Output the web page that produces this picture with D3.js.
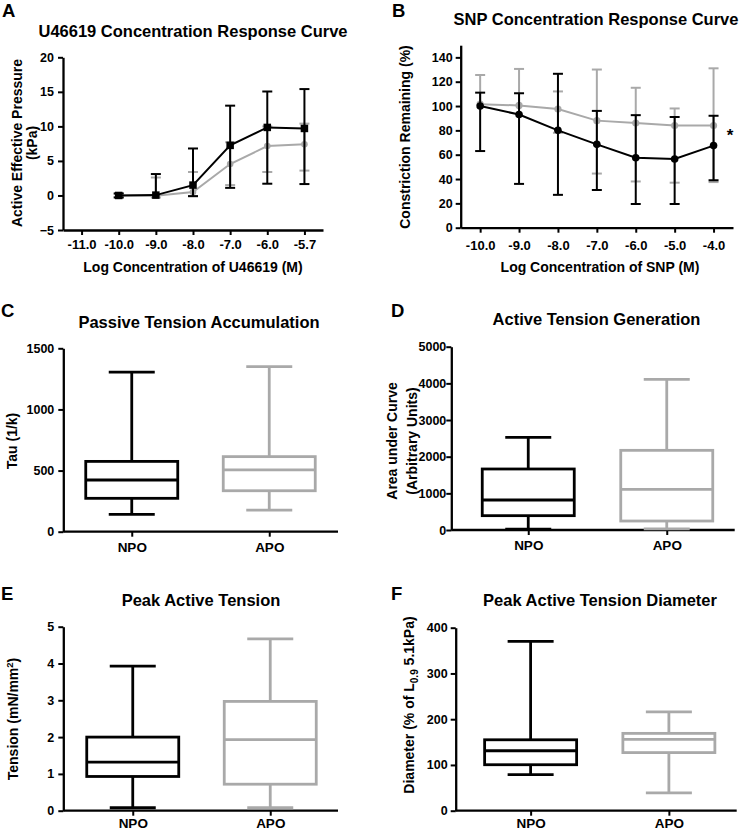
<!DOCTYPE html>
<html><head><meta charset="utf-8">
<script src="https://cdn.jsdelivr.net/npm/d3@7"></script>
<style>
body{margin:0;background:#fff}
svg text{font-family:"Liberation Sans",Arial,Helvetica,sans-serif;font-weight:bold;fill:#000}
</style></head><body>
<svg id="fig" width="748" height="832"></svg>
<script>
// ---------- Panel A: U46619 concentration response ----------
const aTickLabels = ["-11.0","-10.0","-9.0","-8.0","-7.0","-6.0","-5.7"];
const aConc       = ["-10.0","-9.0","-8.0","-7.0","-6.0","-5.7"];
const aNpoMean  = [0, 0.05, 1.5, 7.25, 9.85, 9.7];
const aNpoUpper = [0.3, 3.1, 6.8, 13.0, 15.05, 15.4];
const aNpoLower = [-0.3, 0.05, -0.1, 1.1, 1.7, 1.65];
const aApoMean  = [0, -0.05, 0.5, 4.55, 7.15, 7.4];
const aApoUpper = [0.2, 2.6, 3.4, 7.7, 10.0, 10.4];
const aApoLower = [-0.2, -0.3, -0.1, 1.5, 3.4, 3.6];
const aYTicks = [-5, 0, 5, 10, 15, 20];

// ---------- Panel B: SNP concentration response ----------
const bConc = ["-10.0","-9.0","-8.0","-7.0","-6.0","-5.0","-4.0"];
const bNpoMean  = [100, 93, 80, 68.5, 57.5, 56.5, 67.5];
const bNpoUpper = [111, 110.5, 126.5, 96, 92.5, 91, 92];
const bNpoLower = [63, 36, 27, 31, 19.5, 19.5, 39];
const bApoMean  = [101.5, 100.5, 97.5, 88, 86, 84, 84];
const bApoUpper = [125.5, 130.5, 112, 130, 115, 98, 131];
const bApoLower = [101.5, 100.5, 78, 44.5, 38, 37, 37.5];
const bYTicks = [0, 20, 40, 60, 80, 100, 120, 140];

// ---------- Box plots: [min, Q1, median, Q3, max] ----------
const groups = ["NPO", "APO"];
const cNpo = [142, 273, 423, 575, 1305];
const cApo = [177, 335, 505, 614, 1350];
const cYTicks = [0, 500, 1000, 1500];
const dNpo = [20, 391, 818, 1664, 2527];
const dApo = [30, 245, 1109, 2173, 4109];
const dYTicks = [0, 1000, 2000, 3000, 4000, 5000];
const eNpo = [0.08, 0.93, 1.32, 2.0, 3.93];
const eApo = [0.08, 0.72, 1.93, 2.97, 4.67];
const eYTicks = [0, 1, 2, 3, 4, 5];
const fNpo = [79, 100.5, 131, 155, 370];
const fApo = [39, 127, 156, 169, 216];
const fYTicks = [0, 100, 200, 300, 400];

const BLACK = "#000", GRAY = "#a9a9a9";
const svg = d3.select("#fig");
const fmtInt = d3.format("d");

function styleAxis(g, fs) {
  g.selectAll("path.domain").attr("stroke", "#000").attr("stroke-width", 2.3);
  g.selectAll(".tick line").attr("stroke", "#000").attr("stroke-width", 2);
  g.selectAll(".tick text").attr("font-size", fs).attr("fill", "#000");
}

function text(x, y, str, size, anchor) {
  return svg.append("text").attr("x", x).attr("y", y).attr("font-size", size)
    .attr("text-anchor", anchor || "middle").text(str);
}
function vtext(x, y, str, size) {
  return svg.append("text").attr("transform", `translate(${x},${y}) rotate(-90)`)
    .attr("font-size", size).attr("text-anchor", "middle").text(str);
}

function yAxis(scale, x, ticks, pad) {
  const g = svg.append("g").attr("transform", `translate(${x},0)`)
    .call(d3.axisLeft(scale).tickValues(ticks).tickFormat(fmtInt)
      .tickSize(5).tickPadding(pad == null ? 4 : pad).tickSizeOuter(0));
  styleAxis(g, 12.5);
}

function series(x, y, cats, mean, upper, lower, color, shape, size) {
  const g = svg.append("g");
  const capW = 10;
  const pts = cats.map((c, i) => ({c, m: mean[i], u: upper[i], l: lower[i]}));
  g.append("path").datum(pts)
    .attr("fill", "none").attr("stroke", color).attr("stroke-width", 2)
    .attr("d", d3.line().x(d => x(d.c)).y(d => y(d.m)));
  pts.forEach(d => {
    const cx = x(d.c);
    g.append("line").attr("x1", cx).attr("x2", cx).attr("y1", y(d.u)).attr("y2", y(d.l))
      .attr("stroke", color).attr("stroke-width", 2);
    [d.u, d.l].forEach(v => {
      if (Math.abs(v - d.m) > 0.001) {
        g.append("line").attr("x1", cx - capW/2).attr("x2", cx + capW/2)
          .attr("y1", y(v)).attr("y2", y(v)).attr("stroke", color).attr("stroke-width", 2);
      }
    });
  });
  if (shape === "square") {
    g.selectAll("rect.m").data(pts).enter().append("rect")
      .attr("x", d => x(d.c) - size/2).attr("y", d => y(d.m) - size/2)
      .attr("width", size).attr("height", size).attr("fill", color);
  } else {
    g.selectAll("circle.m").data(pts).enter().append("circle")
      .attr("cx", d => x(d.c)).attr("cy", d => y(d.m)).attr("r", size).attr("fill", color);
  }
}

// ---------- Panel A ----------
{
  const x = d3.scalePoint().domain(aTickLabels).range([63, 323]).padding(0.5);
  const y = d3.scaleLinear().domain([-5, 20]).range([230, 57.3]);
  const gx = svg.append("g").attr("transform", "translate(0,230)")
    .call(d3.axisBottom(x).tickSize(5).tickPadding(5).tickSizeOuter(0));
  styleAxis(gx, 13);
  yAxis(y, 63, aYTicks);
  series(x, y, aConc, aApoMean, aApoUpper, aApoLower, GRAY, "circle", 3.3);
  series(x, y, aConc, aNpoMean, aNpoUpper, aNpoLower, BLACK, "square", 7.5);
  text(2, 17, "A", 18.5, "start");
  text(193, 37, "U46619 Concentration Response Curve", 16.5);
  text(193, 272, "Log Concentration of U46619 (M)", 14);
  vtext(22, 143, "Active Effective Pressure", 14);
  vtext(36.5, 143, "(kPa)", 14);
}

// ---------- Panel B ----------
{
  const x = d3.scalePoint().domain(bConc).range([460.7, 733]).padding(0.5);
  const y = d3.scaleLinear().domain([0, 150]).range([227.7, 45.2]);
  const gx = svg.append("g").attr("transform", "translate(0,227.7)")
    .call(d3.axisBottom(x).tickSize(5).tickPadding(8).tickSizeOuter(0));
  styleAxis(gx, 13);
  yAxis(y, 460.7, bYTicks, 3);
  series(x, y, bConc, bApoMean, bApoUpper, bApoLower, GRAY, "circle", 3.6);
  series(x, y, bConc, bNpoMean, bNpoUpper, bNpoLower, BLACK, "circle", 3.8);
  text(730, 141, "*", 17);
  text(392, 16.5, "B", 18.5, "start");
  text(596, 25, "SNP Concentration Response Curve", 16.5);
  text(600, 272, "Log Concentration of SNP (M)", 14);
  vtext(409.5, 137, "Constriction Remaining (%)", 14);
}

// ---------- Box plot panels ----------
function boxPanel(opt) {
  const x = d3.scalePoint().domain(groups).range(opt.xr).padding(0.5);
  const y = d3.scaleLinear().domain(opt.dom).range([opt.y0, opt.y1]);
  const gx = svg.append("g").attr("transform", `translate(0,${opt.y0})`)
    .call(d3.axisBottom(x).tickSize(5).tickPadding(opt.xpad).tickSizeOuter(0));
  gx.select("path.domain").remove();
  styleAxis(gx, 13.5);
  svg.append("line").attr("x1", opt.ax).attr("x2", opt.xEnd).attr("y1", opt.y0).attr("y2", opt.y0)
    .attr("stroke", "#000").attr("stroke-width", 2.3);
  yAxis(y, opt.ax, opt.ticks, opt.ypad);
  const bw = 92, cw = 46;
  [[groups[0], opt.npo, BLACK], [groups[1], opt.apo, GRAY]].forEach(([gname, v, col]) => {
    const cx = x(gname);
    const g = svg.append("g").attr("stroke", col).attr("stroke-width", 2.8).attr("fill", "none");
    g.append("line").attr("x1", cx).attr("x2", cx).attr("y1", y(v[0])).attr("y2", y(v[1]));
    g.append("line").attr("x1", cx).attr("x2", cx).attr("y1", y(v[3])).attr("y2", y(v[4]));
    g.append("line").attr("x1", cx - cw/2).attr("x2", cx + cw/2).attr("y1", y(v[0])).attr("y2", y(v[0]));
    g.append("line").attr("x1", cx - cw/2).attr("x2", cx + cw/2).attr("y1", y(v[4])).attr("y2", y(v[4]));
    g.append("rect").attr("x", cx - bw/2).attr("y", y(v[3])).attr("width", bw)
      .attr("height", y(v[1]) - y(v[3]));
    g.append("line").attr("x1", cx - bw/2).attr("x2", cx + bw/2).attr("y1", y(v[2])).attr("y2", y(v[2]));
  });
  text(opt.lx, opt.ly, opt.letter, 18.5, "start");
  text(opt.tx, opt.ty, opt.title, 16.5);
}

boxPanel({xr: [63, 338], ax: 63.3, xEnd: 338, dom: [0, 1500], y0: 531.7, y1: 348.3,
  ticks: cYTicks, npo: cNpo, apo: cApo, letter: "C", lx: 1, ly: 317, xpad: 5.5, ypad: 4,
  title: "Passive Tension Accumulation", tx: 199, ty: 328});
vtext(17, 441, "Tau (1/k)", 14);

boxPanel({xr: [459, 736], ax: 451.3, xEnd: 734.7, dom: [0, 5000], y0: 530, y1: 346.7,
  ticks: dYTicks, npo: dNpo, apo: dApo, letter: "D", lx: 391, ly: 317, xpad: 5.5, ypad: 0,
  title: "Active Tension Generation", tx: 596.5, ty: 325});
vtext(397, 441, "Area under Curve", 14);
vtext(417, 441, "(Arbitrary Units)", 14);

boxPanel({xr: [64, 339], ax: 63.3, xEnd: 338, dom: [0, 5], y0: 810.7, y1: 626.7,
  ticks: eYTicks, npo: eNpo, apo: eApo, letter: "E", lx: 1, ly: 600, xpad: 3, ypad: 4,
  title: "Peak Active Tension", tx: 201, ty: 606});
{
  const t = vtext(18, 719, "", 14);
  t.append("tspan").text("Tension (mN/mm");
  t.append("tspan").attr("dy", -5).attr("font-size", 9.5).text("2");
  t.append("tspan").attr("dy", 5).text(")");
}

boxPanel({xr: [461.5, 738], ax: 455.7, xEnd: 736.7, dom: [0, 400], y0: 810.7, y1: 627.7,
  ticks: fYTicks, npo: fNpo, apo: fApo, letter: "F", lx: 391, ly: 600, xpad: 3, ypad: 3,
  title: "Peak Active Tension Diameter", tx: 600, ty: 606});
{
  const t = vtext(414, 705, "", 14);
  t.append("tspan").text("Diameter (% of L");
  t.append("tspan").attr("dy", 4).attr("font-size", 10).text("0.9");
  t.append("tspan").attr("dy", -4).text(" 5.1kPa)");
}
</script>
</body></html>
